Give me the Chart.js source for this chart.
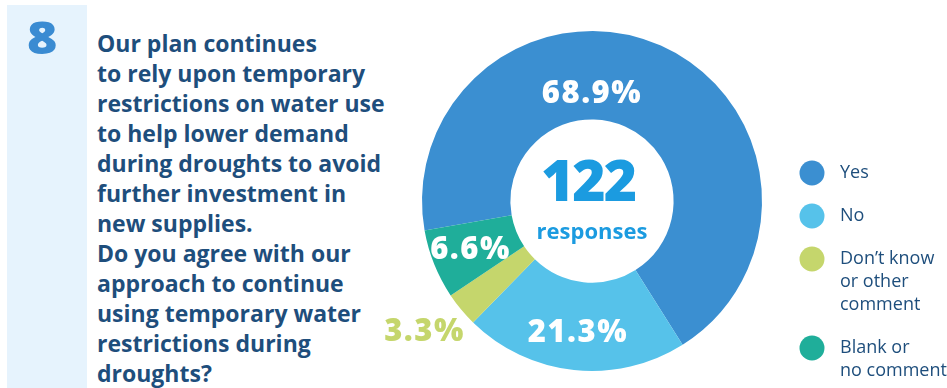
<!DOCTYPE html>
<html>
<head>
<meta charset="utf-8">
<script src="https://cdn.jsdelivr.net/npm/chart.js@4.4.1/dist/chart.umd.min.js"></script>
<style>
    html, body { margin: 0; padding: 0; background: #fff; }
    #wrap { position: relative; width: 947px; height: 388px; overflow: hidden; }
    #panel { position: absolute; left: 7px; top: 5px; width: 80px; height: 383px; background: #e6f3fd; }
    #num {
        position: absolute; left: 27px; top: 6px;
        font: 800 45px "Open Sans", sans-serif; color: #3a8bd2;
        transform: scaleX(1.15); transform-origin: left top;
    }
    #question {
        position: absolute; left: 97px; top: 28px; margin: 0;
        font: 700 23px/30px "Open Sans", sans-serif; color: #1e4e7c;
        white-space: pre;
    }
    #chart { position: absolute; left: 0; top: 0; }
</style>
</head>
<body>
<div id="wrap">
    <div id="panel"></div>
    <div id="num">8</div>
    <p id="question"></p>
    <canvas id="chart" width="947" height="388"></canvas>
</div>
<script>
// Datos de la pregunta
const preguntaNumero = '8';
const preguntaLineas = [
    'Our plan continues',
    'to rely upon temporary',
    'restrictions on water use',
    'to help lower demand',
    'during droughts to avoid',
    'further investment in',
    'new supplies.',
    'Do you agree with our',
    'approach to continue',
    'using temporary water',
    'restrictions during',
    'droughts?'
];
const categorias = [
    ['Yes'],
    ['No'],
    ['Don\u2019t know', 'or other', 'comment'],
    ['Blank or', 'no comment']
];
const porcentajes = [68.9, 21.3, 3.3, 6.6];
const totalRespuestas = 122;
const colores = ['#3b8fd1', '#56c2ea', '#c5d66c', '#1fae9a'];

document.getElementById('num').textContent = preguntaNumero;
document.getElementById('question').textContent = preguntaLineas.join('\n');

// Etiquetas de porcentaje sobre cada sector
const etiquetasPlugin = {
    id: 'etiquetas',
    afterDatasetsDraw(chart, args, opts) {
        const ctx = chart.ctx;
        const meta = chart.getDatasetMeta(0);
        ctx.save();
        ctx.textAlign = 'center';
        ctx.textBaseline = 'middle';
        ctx.font = '800 31px "Open Sans", sans-serif';
        ctx.letterSpacing = '1.5px';
        meta.data.forEach((arc, i) => {
            const p = arc.getProps(['x', 'y', 'startAngle', 'endAngle', 'outerRadius'], true);
            const ajuste = opts.ajustes[i] || {};
            const ang = ajuste.angulo !== undefined
                ? ajuste.angulo * Math.PI / 180 - Math.PI / 2
                : (p.startAngle + p.endAngle) / 2;
            const r = p.outerRadius * (ajuste.radio || 0.76);
            ctx.fillStyle = ajuste.color || '#ffffff';
            ctx.fillText(chart.data.datasets[0].data[i] + '%', p.x + Math.cos(ang) * r, p.y + Math.sin(ang) * r);
        });
        ctx.restore();
    }
};

// Texto central con el total
const centroPlugin = {
    id: 'centro',
    afterDatasetsDraw(chart) {
        const ctx = chart.ctx;
        const arc = chart.getDatasetMeta(0).data[0];
        ctx.save();
        ctx.textAlign = 'center';
        ctx.textBaseline = 'middle';
        ctx.fillStyle = '#1b9be0';
        ctx.font = '800 57px "Open Sans", sans-serif';
        ctx.letterSpacing = '-2px';
        ctx.fillText(String(totalRespuestas), arc.x - 4, arc.y - 16);
        ctx.font = '700 22px "Open Sans", sans-serif';
        ctx.letterSpacing = '0px';
        ctx.fillText('responses', arc.x, arc.y + 32);
        ctx.restore();
    }
};

// Leyenda con puntos y texto en varias lineas
const leyendaPlugin = {
    id: 'leyenda',
    afterDraw(chart, args, opts) {
        const ctx = chart.ctx;
        let y = opts.top;
        ctx.save();
        ctx.textBaseline = 'middle';
        ctx.font = '400 18px "Open Sans", sans-serif';
        chart.data.labels.forEach((lineas, i) => {
            ctx.fillStyle = chart.data.datasets[0].backgroundColor[i];
            ctx.beginPath();
            ctx.arc(opts.x, y, 12.5, 0, Math.PI * 2);
            ctx.fill();
            ctx.fillStyle = '#1e4e7c';
            lineas.forEach((txt, j) => {
                ctx.fillText(txt, opts.x + 28, y + j * opts.lineHeight);
            });
            y += (lineas.length - 1) * opts.lineHeight + opts.gap;
        });
        ctx.restore();
    }
};

new Chart(document.getElementById('chart').getContext('2d'), {
    type: 'doughnut',
    data: {
        labels: categorias,
        datasets: [{
            data: porcentajes,
            backgroundColor: colores,
            borderWidth: 0
        }]
    },
    options: {
        responsive: false,
        animation: false,
        cutout: '48%',
        rotation: -100,
        layout: { padding: { left: 422, right: 185, top: 31, bottom: 17 } },
        plugins: {
            legend: { display: false },
            tooltip: { enabled: false },
            etiquetas: {
                ajustes: [
                    { angulo: 0, radio: 0.63 },
                    { radio: 0.78 },
                    { angulo: 232, radio: 1.25, color: '#c5d66c' },
                    { radio: 0.77 }
                ]
            },
            leyenda: { x: 812, top: 173, lineHeight: 23, gap: 43 }
        }
    },
    plugins: [etiquetasPlugin, centroPlugin, leyendaPlugin]
});
</script>
</body>
</html>
